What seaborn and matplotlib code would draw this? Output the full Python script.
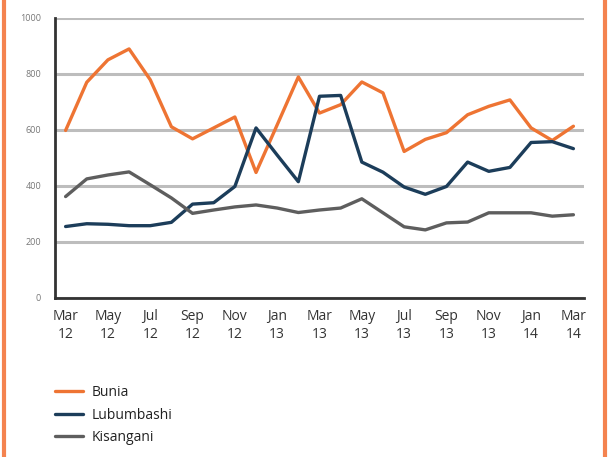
import matplotlib.pyplot as plt
import seaborn as sns
import pandas as pd
from matplotlib.lines import Line2D
from matplotlib.ticker import MultipleLocator

months = ["Mar 12", "Apr 12", "May 12", "Jun 12", "Jul 12", "Aug 12", "Sep 12", "Oct 12",
          "Nov 12", "Dec 12", "Jan 13", "Feb 13", "Mar 13", "Apr 13", "May 13", "Jun 13",
          "Jul 13", "Aug 13", "Sep 13", "Oct 13", "Nov 13", "Dec 13", "Jan 14", "Feb 14", "Mar 14"]

bunia = [598, 770, 850, 889, 779, 611, 568, 607, 646, 448, 618, 789, 660, 690, 771, 732,
         523, 566, 590, 654, 684, 707, 607, 562, 613]
lubumbashi = [255, 265, 263, 258, 258, 270, 335, 340, 398, 607, 510, 415, 720, 723, 485, 449,
              396, 370, 398, 485, 452, 466, 555, 558, 533]
kisangani = [362, 425, 439, 450, 404, 357, 302, 314, 325, 332, 321, 305, 314, 321, 354, 304,
             254, 243, 268, 271, 304, 304, 304, 292, 297]

cities = ["Bunia", "Lubumbashi", "Kisangani"]
colors = ["#EE7433", "#1C3D5A", "#5E5E5E"]

df = pd.DataFrame({
    "idx": list(range(len(months))) * 3,
    "value": bunia + lubumbashi + kisangani,
    "city": [c for c in cities for _ in months],
})

sns.set_style("white")
plt.rcParams['font.family'] = ['Open Sans', 'DejaVu Sans']

fig = plt.figure(figsize=(6.08, 4.57), dpi=100)
ax = fig.add_axes([0.0905, 0.348, 0.870, 0.613])

sns.lineplot(data=df, x="idx", y="value", hue="city", palette=colors,
             linewidth=2.4, legend=False, ax=ax)

ax.set_xlim(-0.5, 24.5)
ax.set_ylim(0, 1000)
ax.set_yticks(range(0, 1001, 200))
ax.set_yticklabels([str(v) for v in range(0, 1001, 200)], fontsize=6.5, color="#777777")
ax.yaxis.grid(True, color="#BDBDBD", linewidth=2.2)
ax.set_axisbelow(True)
ax.tick_params(axis="y", length=0, pad=10)

major = list(range(0, 25, 2))
ax.set_xticks(major)
ax.set_xticklabels([months[i].replace(" ", "\n") for i in major], fontsize=10, color="#333333",
                   linespacing=1.3)
ax.xaxis.set_minor_locator(MultipleLocator(1))
ax.tick_params(axis="x", which="major", length=5, width=1.6, color="#333333", direction="out", pad=3)
ax.tick_params(axis="x", which="minor", length=3, width=1.6, color="#333333", direction="out")
ax.set_xlabel("")
ax.set_ylabel("")

for s in ["top", "right"]:
    ax.spines[s].set_visible(False)
for s in ["left", "bottom"]:
    ax.spines[s].set_color("#333333")
    ax.spines[s].set_linewidth(2)

handles = [Line2D([0], [0], color=c, linewidth=2.4) for c in colors]
fig.legend(handles, cities, loc="upper left", bbox_to_anchor=(0.07, 0.185), frameon=False,
           fontsize=10, handlelength=2.0, labelspacing=0.55, handletextpad=0.6,
           labelcolor="#222222")

# orange frame on the left and right edges
fig.add_artist(Line2D([0.0065, 0.0065], [0, 1], color="#F4834F", linewidth=3,
                      transform=fig.transFigure))
fig.add_artist(Line2D([0.9955, 0.9955], [0, 1], color="#F4834F", linewidth=3,
                      transform=fig.transFigure))

fig.savefig("out.png", dpi=100)
